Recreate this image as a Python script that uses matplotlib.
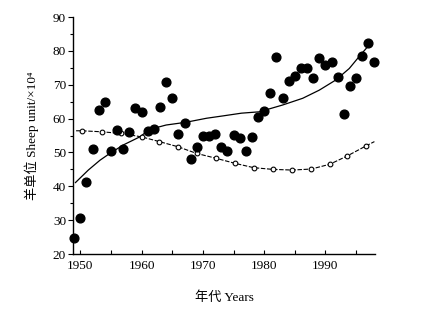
import matplotlib
matplotlib.use("Agg")
import matplotlib.pyplot as plt
from matplotlib.ticker import MultipleLocator

plt.rcParams['font.family'] = ['Liberation Serif', 'Noto Sans CJK SC']

# yearly sheep units (filled dots)
years = [1949, 1950, 1951, 1952, 1953, 1954, 1955, 1956, 1957, 1958,
         1959, 1960, 1961, 1962, 1963, 1964, 1965, 1966, 1967, 1968,
         1969, 1970, 1971, 1972, 1973, 1974, 1975, 1976, 1977, 1978,
         1979, 1980, 1981, 1982, 1983, 1984, 1985, 1986, 1987, 1988,
         1989, 1990, 1991, 1992, 1993, 1994, 1995, 1996, 1997, 1998]
sheep = [24.8, 30.6, 41.2, 50.9, 62.5, 64.8, 50.5, 56.6, 51.0, 55.9,
         63.0, 61.9, 56.4, 56.9, 63.3, 70.9, 66.2, 55.4, 58.6, 48.0,
         51.5, 55.0, 55.0, 55.4, 51.5, 50.5, 55.2, 54.2, 50.5, 54.7,
         60.4, 62.3, 67.5, 78.3, 66.2, 71.1, 72.7, 75.0, 75.0, 72.1,
         77.8, 75.8, 76.8, 72.4, 61.3, 69.6, 71.9, 78.5, 82.2, 76.8]

# fitted trend of the dots (solid curve)
trend_years = [1949.2, 1951.3, 1953.2, 1954.8, 1957.0, 1959.7, 1961.3, 1964.0,
               1967.2, 1970.6, 1973.3, 1976.3, 1979.2, 1983.0, 1986.3, 1989.0,
               1991.7, 1993.9, 1995.5, 1997.6]
trend = [41.1, 44.8, 47.7, 49.7, 52.2, 54.6, 56.8, 58.1,
         58.9, 60.1, 60.8, 61.6, 62.0, 64.0, 66.0, 68.4,
         71.4, 74.8, 78.3, 82.7]

# second series (open circles, dashed line)
open_years = [1950.2, 1953.5, 1956.7, 1960.0, 1962.9, 1965.9, 1969.0, 1972.1,
              1975.2, 1978.3, 1981.4, 1984.6, 1987.7, 1990.7, 1993.5, 1996.6]
open_vals = [56.4, 56.1, 55.6, 54.6, 53.2, 51.7, 49.7, 48.3,
             46.8, 45.5, 45.0, 44.8, 45.1, 46.5, 48.9, 51.9]
open_line_years = [1949.3] + open_years + [1998.0]
open_line_vals = [56.4] + open_vals + [53.2]

fig = plt.figure(figsize=(4.38, 3.10), dpi=100)
ax = fig.add_axes([0.1667, 0.1806, 0.6895, 0.7645])

ax.plot(trend_years, trend, color='black', lw=0.9)
ax.plot(open_line_years, open_line_vals, color='black', lw=0.8,
        dashes=(4, 1.5))
ax.plot(open_years, open_vals, 'o', ms=3.4, mfc='white', mec='black',
        mew=0.8)
ax.plot(years, sheep, 'o', ms=6.3, color='black', clip_on=False, zorder=5)

ax.set_xlim(1948.8, 1998.1)
ax.set_ylim(20, 90)
ax.xaxis.set_major_locator(MultipleLocator(10))
ax.xaxis.set_minor_locator(MultipleLocator(5))
ax.yaxis.set_major_locator(MultipleLocator(10))
ax.yaxis.set_minor_locator(MultipleLocator(5))
ax.set_xticks([1950, 1960, 1970, 1980, 1990])

ax.spines['top'].set_visible(False)
ax.spines['right'].set_visible(False)
ax.spines['left'].set_linewidth(1.0)
ax.spines['bottom'].set_linewidth(1.0)

ax.tick_params(axis='x', which='both', direction='in', length=3, width=0.8,
               labelsize=9.5, pad=4)
ax.tick_params(axis='y', which='major', direction='out', length=3.5,
               width=0.8, labelsize=9.5, pad=1.5)
ax.tick_params(axis='y', which='minor', direction='out', length=2.5,
               width=0.8)

ax.set_xlabel('年代 Years', fontsize=9.5, labelpad=14)
ax.set_ylabel('羊单位 Sheep unit/×10⁴', fontsize=9.5, labelpad=10)

fig.savefig('out.png', dpi=100)
